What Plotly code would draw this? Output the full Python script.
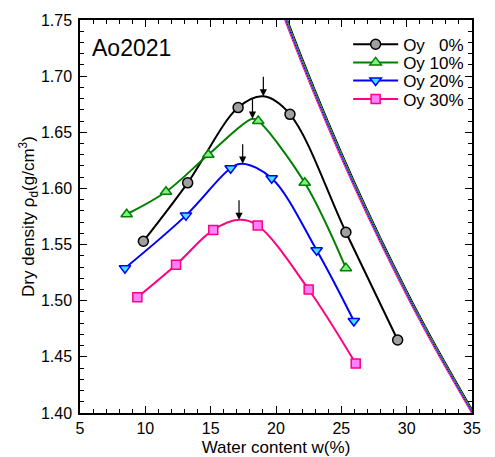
import plotly.graph_objects as go

# ---- data ----
w_oy0 = [9.85, 13.24, 17.1, 21.07, 25.35, 29.31]
rho_oy0 = [1.553, 1.605, 1.672, 1.666, 1.561, 1.465]

w_oy10 = [8.57, 11.58, 14.82, 18.64, 22.2, 25.35]
rho_oy10 = [1.577, 1.597, 1.630, 1.660, 1.605, 1.529]

w_oy20 = [8.44, 13.11, 16.53, 19.67, 23.11, 25.96]
rho_oy20 = [1.529, 1.576, 1.618, 1.609, 1.545, 1.482]

w_oy30 = [9.39, 12.35, 15.2, 18.6, 22.5, 26.1]
rho_oy30 = [1.503, 1.532, 1.563, 1.567, 1.510, 1.444]

# optimum (peak of each fitted curve, marked by an arrow)
opt_w = [19.03, 18.2, 17.45, 17.17]
opt_rho = [1.682, 1.662, 1.622, 1.572]

# zero-air-void (saturation) curves
zav_w = [20.5, 22, 24, 26, 28, 30, 32, 35.2]
zav_oy0 = [1.7623, 1.7169, 1.6599, 1.6066, 1.5566, 1.5095, 1.4654, 1.3997]
zav_oy10 = [1.7598, 1.7146, 1.6577, 1.6045, 1.5547, 1.5077, 1.4637, 1.3982]
zav_oy20 = [1.7574, 1.7122, 1.6555, 1.6025, 1.5527, 1.5059, 1.4620, 1.3966]
zav_oy30 = [1.7549, 1.7099, 1.6533, 1.6004, 1.5508, 1.5041, 1.4603, 1.3951]

labels = ["Oy\u00a0\u00a0\u00a00%", "Oy 10%", "Oy 20%", "Oy 30%"]

series = [
    (w_oy0, rho_oy0, zav_oy0, "black", "#a0a0a0", "circle", 10),
    (w_oy10, rho_oy10, zav_oy10, "#008000", "#80f080", "triangle-up", 10),
    (w_oy20, rho_oy20, zav_oy20, "#0000ff", "#40e8ff", "triangle-down", 10),
    (w_oy30, rho_oy30, zav_oy30, "#ff0080", "#ff80ff", "square", 9),
]

FONT = "Liberation Sans, Arial, sans-serif"
fig = go.Figure()

# ZAV lines first
for (w, r, zr, lc, fc, sym, sz) in series:
    fig.add_trace(go.Scatter(x=zav_w, y=zr, mode="lines", line=dict(color=lc, width=1, shape="spline"),
                             showlegend=False, hoverinfo="skip"))

legend_ids = ["legend", "legend2", "legend3", "legend4"]
for i, (w, r, zr, lc, fc, sym, sz) in enumerate(series):
    # smooth compaction curve through the measured points and the optimum
    pts = sorted(list(zip(w, r)) + [(opt_w[i], opt_rho[i])])
    fig.add_trace(go.Scatter(
        x=[p[0] for p in pts], y=[p[1] for p in pts], mode="lines",
        line=dict(color=lc, width=2, shape="spline", smoothing=1.0),
        showlegend=False, hoverinfo="skip",
    ))
    # measured points
    fig.add_trace(go.Scatter(
        x=w, y=r, mode="markers", showlegend=False,
        marker=dict(symbol=sym, size=sz, color=fc, line=dict(color=lc, width=1.5)),
        cliponaxis=False,
    ))
    # legend entry
    fig.add_trace(go.Scatter(
        x=[None], y=[None], mode="lines+markers", name=labels[i],
        line=dict(color=lc, width=2),
        marker=dict(symbol=sym, size=sz, color=fc, line=dict(color=lc, width=1.5)),
        legend=legend_ids[i],
    ))

# arrows at the optimum
for xw, yr in zip(opt_w, opt_rho):
    fig.add_annotation(x=xw, y=yr, ax=0, ay=-21, text="", showarrow=True,
                       arrowhead=2, arrowsize=1.2, arrowwidth=1.2, arrowcolor="black", standoff=0)

fig.add_annotation(text="Ao2021", xref="paper", yref="paper", x=0.026, y=0.928,
                   xanchor="left", yanchor="middle", showarrow=False,
                   font=dict(family=FONT, size=23, color="black"))

leg_y = [0.937, 0.891, 0.845, 0.798]
leg_common = dict(x=0.684, xanchor="left", yanchor="middle", bgcolor="rgba(0,0,0,0)",
                  borderwidth=0, font=dict(family=FONT, size=17, color="black"),
                  itemwidth=45, tracegroupgap=0)
layout_leg = {}
for lid, ly in zip(legend_ids, leg_y):
    layout_leg[lid] = dict(y=ly, **leg_common)

fig.update_layout(
    width=495, height=457,
    margin=dict(l=80, r=23, t=20, b=44, autoexpand=False),
    paper_bgcolor="white", plot_bgcolor="white",
    font=dict(family=FONT, size=16, color="black"),
    **layout_leg,
)

axis_common = dict(showline=True, linecolor="black", linewidth=1.5, mirror="ticks",
                   ticks="inside", ticklen=7, tickwidth=1.3, tickcolor="black",
                   showgrid=False, zeroline=False, automargin=False,
                   tickfont=dict(family=FONT, size=16, color="black"))

fig.update_xaxes(range=[5, 35], dtick=5, tick0=5,
                 minor=dict(dtick=1, ticks="inside", ticklen=4, tickcolor="black", tickwidth=1.2),
                 title=dict(text="Water content w(%)", font=dict(family=FONT, size=17), standoff=5),
                 **axis_common)
fig.update_yaxes(range=[1.40, 1.75], dtick=0.05, tick0=1.40, tickformat=".2f",
                 ticklabelstandoff=3,
                 minor=dict(dtick=0.01, ticks="inside", ticklen=4, tickcolor="black", tickwidth=1.2),
                 title=dict(text="Dry density \u03c1<sub>d</sub>(g/cm<sup>3</sup>)",
                            font=dict(family=FONT, size=17), standoff=0),
                 **axis_common)

fig.write_html("out.html", config={"displayModeBar": False},
               post_script="document.body.style.margin='0px';")
